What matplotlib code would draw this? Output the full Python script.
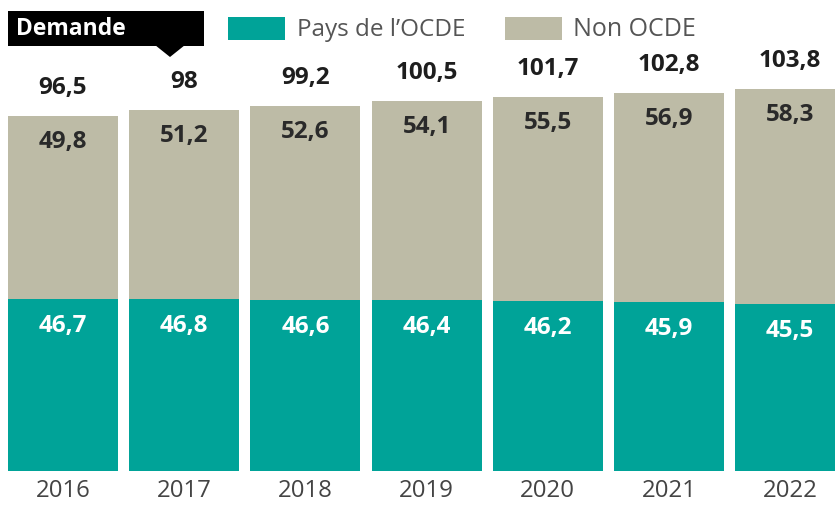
import matplotlib
matplotlib.use("Agg")
import matplotlib.pyplot as plt
from matplotlib.patches import Rectangle, Polygon

years = ["2016", "2017", "2018", "2019", "2020", "2021", "2022"]
ocde = [46.7, 46.8, 46.6, 46.4, 46.2, 45.9, 45.5]
non_ocde = [49.8, 51.2, 52.6, 54.1, 55.5, 56.9, 58.3]
totals = [96.5, 98, 99.2, 100.5, 101.7, 102.8, 103.8]

TEAL = "#00A398"
BEIGE = "#BDBBA6"

def fr(v):
    s = f"{v:.1f}".replace(".", ",")
    if s.endswith(",0"):
        s = s[:-2]
    return s

plt.rcParams['font.family'] = ['Open Sans', 'DejaVu Sans']

W, H = 835, 505
fig = plt.figure(figsize=(W / 100, H / 100), dpi=100)
# axes: x pixel 0..835, y pixel 0 (top)..471 (bottom)
ax = fig.add_axes([0, (H - 471) / H, 1, 471 / H])
step = 121.2
c0 = 63
ax.set_xlim(-c0 / step, (W - c0) / step)
ax.set_ylim(0, 471 / 3.68)
ax.axis("off")

x = list(range(len(years)))
bw = 110 / step
ax.bar(x, ocde, width=bw, color=TEAL, linewidth=0)
ax.bar(x, non_ocde, width=bw, bottom=ocde, color=BEIGE, linewidth=0)

for i in x:
    ax.annotate(fr(totals[i]), (i, ocde[i] + non_ocde[i]), xytext=(0, 28),
                textcoords="offset pixels", ha="center", va="center",
                fontsize=17.5, fontweight="bold", color="#1e1e1e")
    ax.annotate(fr(non_ocde[i]), (i, ocde[i] + non_ocde[i]), xytext=(0, -26),
                textcoords="offset pixels", ha="center", va="center",
                fontsize=17.5, fontweight="bold", color="#2a2a2a")
    ax.annotate(fr(ocde[i]), (i, ocde[i]), xytext=(0, -27),
                textcoords="offset pixels", ha="center", va="center",
                fontsize=17.5, fontweight="bold", color="white")
    ax.annotate(years[i], (i, 0), xytext=(0, -20),
                textcoords="offset pixels", ha="center", va="center",
                fontsize=17.3, color="#444444")

# header elements in figure pixel coords
def px(xp, yp):
    return xp / W, 1 - yp / H

# Demande box
x0, y0 = px(8, 46)
fig.patches.append(Rectangle((x0, y0), 196 / W, 35 / H, transform=fig.transFigure,
                             facecolor="black", edgecolor="none"))
fig.patches.append(Polygon([px(155, 45), px(185, 45), px(170, 57)], closed=True,
                           transform=fig.transFigure, facecolor="black", edgecolor="none"))
fig.text(*px(16, 29), "Demande", color="white", fontsize=16.5, fontweight="bold",
         ha="left", va="center")

# legend
lx, ly = px(228, 40)
fig.patches.append(Rectangle((lx, ly), 57 / W, 23 / H, transform=fig.transFigure,
                             facecolor=TEAL, edgecolor="none"))
fig.text(*px(297, 30), "Pays de l\u2019OCDE", color="#555555", fontsize=17.5,
         ha="left", va="center")
lx, ly = px(505, 40)
fig.patches.append(Rectangle((lx, ly), 57 / W, 23 / H, transform=fig.transFigure,
                             facecolor=BEIGE, edgecolor="none"))
fig.text(*px(573, 30), "Non OCDE", color="#555555", fontsize=18,
         ha="left", va="center")

fig.savefig("out.png", dpi=100, facecolor="white")
